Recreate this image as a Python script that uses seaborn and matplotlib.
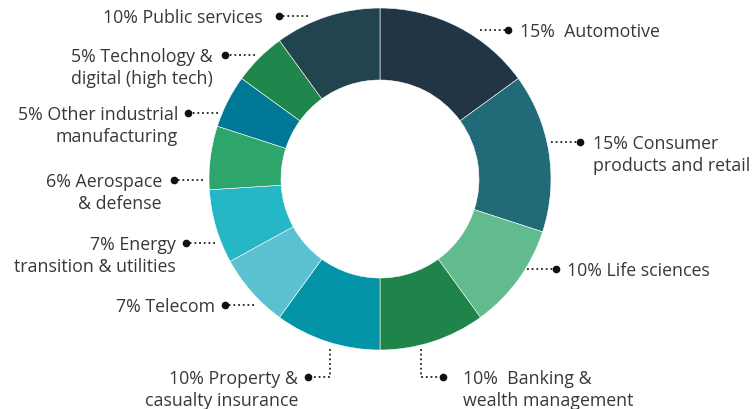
import matplotlib
matplotlib.use("Agg")
import matplotlib.pyplot as plt
import seaborn as sns

sns.set_theme(style="white")
plt.rcParams['font.family'] = ['Open Sans', 'DejaVu Sans']

# ---- data ----
sectors = ["Automotive", "Consumer products and retail", "Life sciences",
           "Banking & wealth management", "Property & casualty insurance",
           "Telecom", "Energy transition & utilities", "Aerospace & defense",
           "Other industrial manufacturing", "Technology & digital (high tech)",
           "Public services"]
shares = [15, 15, 10, 10, 10, 7, 7, 6, 5, 5, 10]
labels = ["15%  Automotive", "15% Consumer\nproducts and retail", "10% Life sciences",
          "10%  Banking &\nwealth management", "10% Property &\ncasualty insurance",
          "7% Telecom", "7% Energy\ntransition & utilities", "6% Aerospace\n& defense",
          "5% Other industrial\nmanufacturing", "5% Technology &\ndigital (high tech)",
          "10% Public services"]
colors = ["#213545", "#216a77", "#61bb8f", "#1e8449", "#0394a8", "#5bc0d0",
          "#25b7c5", "#2ea56a", "#007896", "#1f874b", "#22444f"]

# ---- layout (pixel coords, y from top) ----
W, H = 754, 410
cx, cy, R, ring = 380, 180, 171, 72
# (path points for leader line [start ... dot], side, text gap)
leaders = [
    ([(480, 31), (508, 31)], "right", 12),
    ([(551, 143), (580, 143)], "right", 13),
    ([(527, 270), (556, 270)], "right", 11),
    ([(421, 350), (421, 378), (443, 378)], "right", 20),
    ([(330, 350), (330, 378), (308, 378)], "left", 10),
    ([(254, 306), (225, 306)], "left", 10),
    ([(215, 244), (186, 244)], "left", 10),
    ([(203, 181), (174, 181)], "left", 12),
    ([(218, 114), (188, 114)], "left", 10),
    ([(255, 56), (225, 56)], "left", 12),
    ([(308, 17), (279, 17)], "left", 16),
]

fig = plt.figure(figsize=(W / 100, H / 100), dpi=100)
ax = fig.add_axes([0, 0, 1, 1])
ax.set_xlim(0, W)
ax.set_ylim(0, H)
ax.set_aspect("equal")
ax.axis("off")

ax.pie(shares, colors=colors, startangle=90, counterclock=False,
       center=(cx, H - cy), radius=R,
       wedgeprops=dict(width=ring, linewidth=0.4, edgecolor="white"))
ax.set_xlim(0, W)
ax.set_ylim(0, H)

txt_color = "#383838"
for lab, (pts, side, gap) in zip(labels, leaders):
    xs = [p[0] for p in pts]
    ys = [H - p[1] for p in pts]
    ax.plot(xs, ys, color="#222222", lw=1.3, linestyle=(0, (1, 1.6)),
            solid_capstyle="butt")
    ax.plot(xs[-1], ys[-1], "o", color="#111111", markersize=4.5)
    if side == "right":
        tx, ha = xs[-1] + gap, "left"
    else:
        tx, ha = xs[-1] - gap, "right"
    lines = lab.split("\n")
    for i, ln in enumerate(lines):
        ax.text(tx, ys[-1] - 1 - i * 22.5, ln, ha=ha, va="center", fontsize=12.8,
                color=txt_color)

fig.savefig("out.png", dpi=100)
